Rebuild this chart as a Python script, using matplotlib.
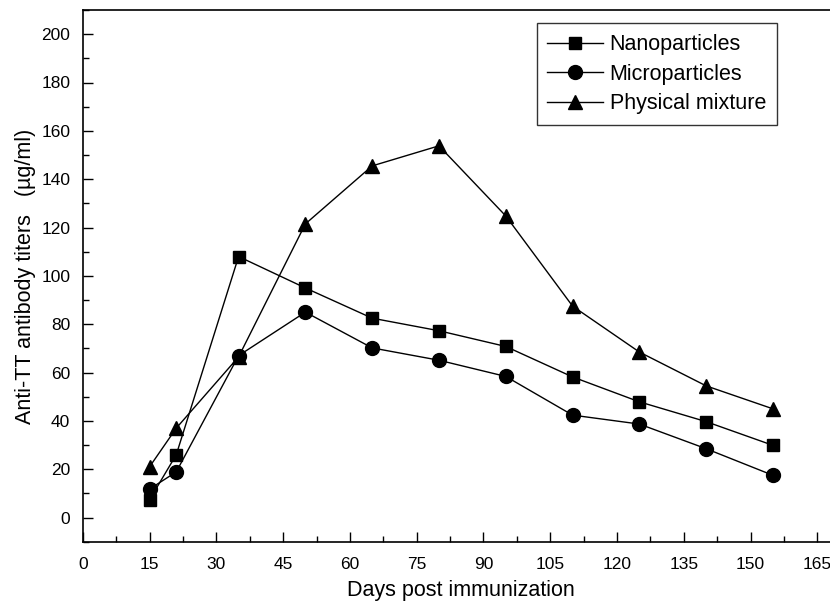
import matplotlib
matplotlib.use("Agg")
import matplotlib.pyplot as plt
from matplotlib.ticker import MultipleLocator

plt.rcParams["font.family"] = ["Liberation Sans", "DejaVu Sans"]

days = [15, 21, 35, 50, 65, 80, 95, 110, 125, 140, 155]
nano = [7.4, 26, 108, 95, 82.5, 77.3, 70.8, 58.2, 47.9, 39.7, 29.9]
micro = [11.8, 18.9, 67, 85, 70.2, 65.1, 58.4, 42.4, 38.7, 28.5, 17.5]
mixture = [21, 37, 66.5, 121.5, 145.5, 153.8, 124.8, 87.5, 68.5, 54.5, 45]

labels = ["Nanoparticles", "Microparticles", "Physical mixture"]
markers = ["s", "o", "^"]
sizes = [9, 10, 10]

fig = plt.figure(figsize=(8.3, 6.05), dpi=100)
ax = fig.add_axes([0.0997, 0.1045, 0.912, 0.879])

for series, label, mk, ms in zip([nano, micro, mixture], labels, markers, sizes):
    ax.plot(days, series, color="black", linewidth=1.0, marker=mk,
            markersize=ms, label=label)

ax.set_xlim(0, 170)
ax.set_ylim(-10, 210)
ax.xaxis.set_minor_locator(MultipleLocator(7.5))
ax.yaxis.set_minor_locator(MultipleLocator(10))
ax.set_xticks(range(0, 166, 15))
ax.set_yticks(range(0, 201, 20))

ax.tick_params(which="major", direction="in", length=7, width=1.0, labelsize=12.5)
ax.tick_params(axis="y", which="major", pad=9)
ax.tick_params(axis="x", which="major", pad=11)
ax.tick_params(which="minor", direction="in", length=4, width=1.0)
ax.spines["right"].set_visible(False)
for s in ["left", "bottom", "top"]:
    ax.spines[s].set_linewidth(1.2)

ax.set_xlabel("Days post immunization", fontsize=15.5, labelpad=6)
ax.set_ylabel("Anti-TT antibody titers   (\u00b5g/ml)", fontsize=15.5, labelpad=4)

leg = ax.legend(loc="upper right", bbox_to_anchor=(0.917, 0.975), fontsize=15.5,
                frameon=True, fancybox=False, edgecolor="black",
                handlelength=2.6, handletextpad=0.3, borderpad=0.5,
                labelspacing=0.4, borderaxespad=0)
leg.get_frame().set_linewidth(1.0)

fig.savefig("out.png", dpi=100)
